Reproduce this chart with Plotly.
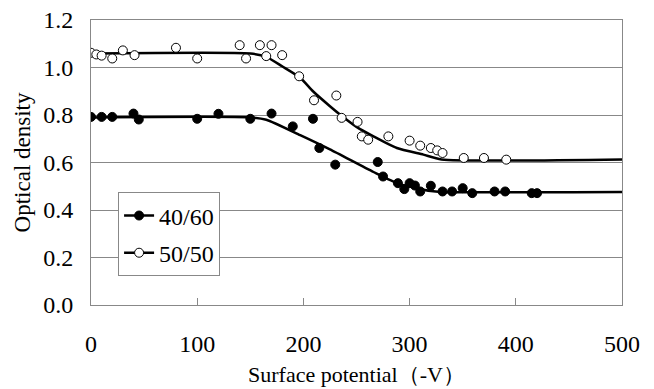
import plotly.graph_objects as go

# Measured data: 40/60 (filled circles)
x_4060 = [0, 10, 20, 40, 45, 100, 120, 150, 170, 190, 209, 215, 230, 270, 275,
          289, 295, 300, 305, 310, 320, 331, 340, 350, 359, 380, 390, 415, 420]
y_4060 = [0.792, 0.792, 0.792, 0.806, 0.781, 0.784, 0.805, 0.784, 0.806, 0.752, 0.784, 0.661, 0.591, 0.602, 0.541,
          0.513, 0.488, 0.513, 0.503, 0.478, 0.502, 0.478, 0.478, 0.492, 0.471, 0.478, 0.478, 0.471, 0.471]

# Measured data: 50/50 (open circles)
x_5050 = [0, 5, 10, 20, 30, 41, 80, 100, 140, 146, 159, 165, 170, 180, 196, 210,
          231, 236, 251, 255, 261, 280, 300, 310, 320, 326, 331, 351, 370, 391]
y_5050 = [1.062, 1.055, 1.050, 1.038, 1.072, 1.052, 1.083, 1.038, 1.094, 1.038, 1.094, 1.048, 1.094, 1.052, 0.963, 0.862,
          0.882, 0.788, 0.771, 0.710, 0.696, 0.710, 0.692, 0.671, 0.661, 0.651, 0.640, 0.619, 0.619, 0.612]

# Fitted curves
fit_x_4060 = [0, 150, 165, 197, 225, 266, 290, 320, 330, 500]
fit_y_4060 = [0.790, 0.790, 0.780, 0.715, 0.655, 0.560, 0.510, 0.480, 0.476, 0.476]

fit_x_5050 = [0, 150, 165, 180, 197, 209, 225, 235, 250, 266, 288, 313, 330, 500]
fit_y_5050 = [1.059, 1.059, 1.045, 1.005, 0.957, 0.900, 0.837, 0.800, 0.750, 0.710, 0.661, 0.633, 0.613, 0.613]

series_names = ["40/60", "50/50"]
x_ticks = [0, 100, 200, 300, 400, 500]
y_ticks = [0.0, 0.2, 0.4, 0.6, 0.8, 1.0, 1.2]

FONT = "Liberation Serif"
fig = go.Figure()

fig.add_trace(go.Scatter(x=fit_x_4060, y=fit_y_4060, mode="lines", line=dict(color="black", width=2.5, shape="spline", smoothing=0.6),
                         showlegend=False, hoverinfo="skip"))
fig.add_trace(go.Scatter(x=fit_x_5050, y=fit_y_5050, mode="lines", line=dict(color="black", width=2.5, shape="spline", smoothing=0.6),
                         showlegend=False, hoverinfo="skip"))
fig.add_trace(go.Scatter(x=x_4060, y=y_4060, mode="markers",
                         marker=dict(symbol="circle", size=9, color="black", line=dict(color="black", width=1)),
                         showlegend=False))
fig.add_trace(go.Scatter(x=x_5050, y=y_5050, mode="markers",
                         marker=dict(symbol="circle", size=9, color="white", line=dict(color="black", width=1)),
                         showlegend=False))
# legend entries
fig.add_trace(go.Scatter(x=[None], y=[None], mode="lines+markers", name=series_names[0], legendgroup="a",
                         line=dict(color="black", width=2.5),
                         marker=dict(symbol="circle", size=9, color="black", line=dict(color="black", width=1))))
fig.add_trace(go.Scatter(x=[None], y=[None], mode="lines+markers", name=series_names[1], legendgroup="b",
                         line=dict(color="black", width=2.5),
                         marker=dict(symbol="circle", size=9, color="white", line=dict(color="black", width=1))))

fig.update_layout(
    width=654, height=389,
    margin=dict(l=83, r=40, t=12, b=92, autoexpand=False),
    paper_bgcolor="white", plot_bgcolor="white",
    font=dict(family=FONT, size=24, color="black"),
    showlegend=True,
    legend=dict(x=0.051, y=0.395, xanchor="left", yanchor="top",
                bgcolor="white", bordercolor="#888888", borderwidth=1,
                font=dict(family=FONT, size=24, color="black"), traceorder="grouped", tracegroupgap=3),
    xaxis=dict(range=[0, 500], tickvals=x_ticks, ticks="inside", ticklen=7, tickcolor="#888888",
               tickfont=dict(family=FONT, size=24, color="black"), ticklabeloverflow="allow", automargin=False,
               showgrid=False, showline=True, linecolor="#888888", linewidth=1, mirror=True,
               ticklabelstandoff=17, zeroline=False,
               title=dict(text="Surface potential（-V）", standoff=10, font=dict(family=FONT, size=22, color="black"))),
    yaxis=dict(range=[0, 1.2], tickvals=y_ticks, tickformat=".1f", ticks="",
               tickfont=dict(family=FONT, size=24, color="black"), ticklabeloverflow="allow", automargin=False,
               showgrid=True, gridcolor="#888888", gridwidth=1,
               showline=True, linecolor="#888888", linewidth=1, mirror=True, zeroline=False,
               ticklabelstandoff=12,
               title=dict(text="Optical density", standoff=6, font=dict(family=FONT, size=23, color="black"))),
)

fig.write_html("out.html")
